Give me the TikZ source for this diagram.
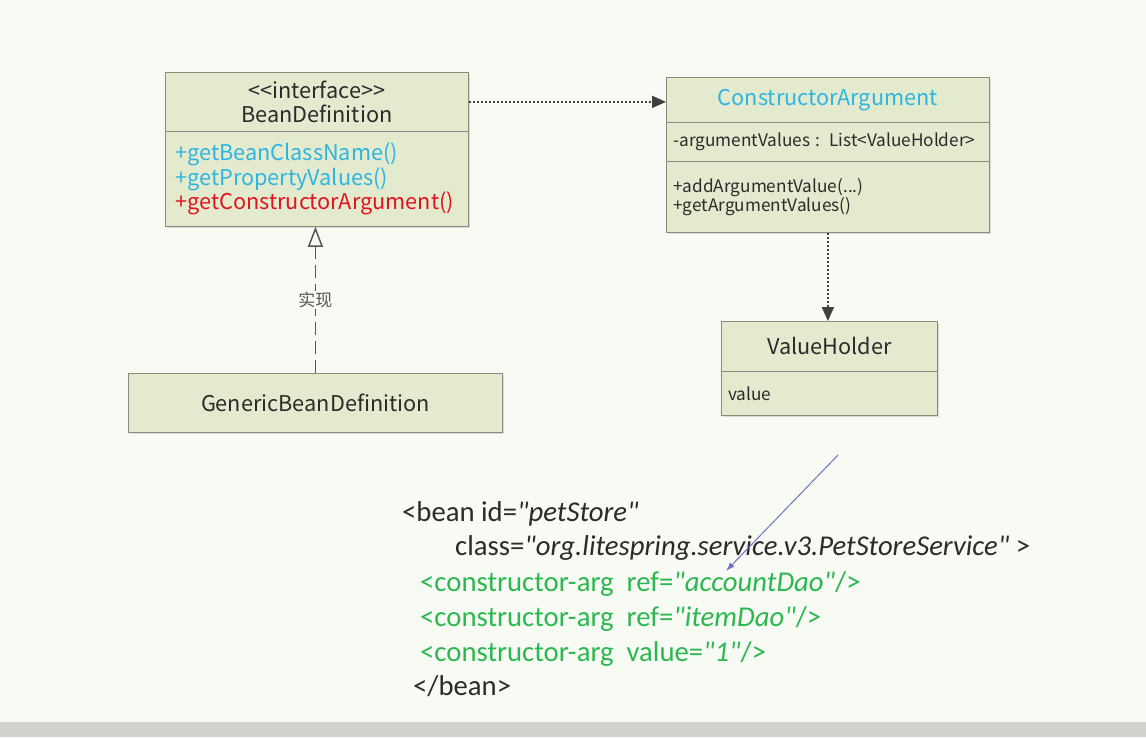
\documentclass[tikz,border=0pt]{standalone}
\usepackage{fontspec}
\setmainfont{Noto Sans CJK SC}
\newfontfamily\xmlfont{Carlito}
\usetikzlibrary{arrows.meta,shadows}
\definecolor{bg}{HTML}{F8FAF4}
\definecolor{bar}{HTML}{D1D2CD}
\definecolor{boxgreen}{HTML}{E3EACD}
\definecolor{boxline}{HTML}{878C7E}
\definecolor{ink}{HTML}{2B2B2B}
\definecolor{ucyan}{HTML}{2DB6E0}
\definecolor{ured}{HTML}{E0141E}
\definecolor{xgreen}{HTML}{2CB850}
\definecolor{pointer}{HTML}{7272C2}
\tikzset{
  umlpart/.style={draw=boxline, fill=boxgreen, line width=0.8pt, anchor=north west,
    inner sep=0pt, text=ink,
    drop shadow={shadow xshift=1.5pt, shadow yshift=-1.5pt, opacity=0.25}},
  umltitle/.style={umlpart, align=center, font=\fontsize{21.7}{24}\selectfont},
  umlops/.style={umlpart, align=left, font=\fontsize{21.7}{24.5}\selectfont},
  umlsmall/.style={umlpart, align=left, font=\fontsize{17.2}{19.5}\selectfont},
  depend/.style={draw=ink!90, line width=1.8pt, dash pattern=on 2pt off 2pt,
    -{Triangle[length=14pt,width=12pt]}},
  realize/.style={draw=ink!80, line width=1.5pt, dash pattern=on 13pt off 6pt,
    -{Triangle[open,length=20pt,width=15pt,line width=1.5pt]}},
  xmltext/.style={anchor=base west, inner sep=0pt, text=ink, font=\xmlfont\fontsize{28.7}{34}\selectfont},
}
\begin{document}
\begin{tikzpicture}[x=1pt,y=-1pt]
\useasboundingbox (0,0) rectangle (1146,737);
\fill[bg] (0,0) rectangle (1146,737);
\fill[bar] (0,722) rectangle (1146,737);
% BeanDefinition
\node[umltitle, minimum width=303pt, minimum height=59pt] (bdhead) at (165,72)
  {<{}<interface>{}>\\BeanDefinition};
\node[umlops, minimum width=303pt, minimum height=95pt, text width=283pt, inner xsep=10pt] (bdbody) at (165,131)
  {\textcolor{ucyan}{+getBeanClassName()}\\\textcolor{ucyan}{+getPropertyValues()}\\\textcolor{ured}{+getConstructorArgument()}};
% GenericBeanDefinition
\node[umltitle, minimum width=374pt, minimum height=59pt] (gbd) at (128,373) {GenericBeanDefinition};
% ConstructorArgument
\node[umltitle, minimum width=323pt, minimum height=45pt, text=ucyan] (cahead) at (666,77) {ConstructorArgument};
\node[umlsmall, minimum width=323pt, minimum height=39pt, text width=309pt, inner xsep=7pt] (caattr) at (666,122)
  {-argumentValues : List<ValueHolder>};
\node[umlsmall, minimum width=323pt, minimum height=71pt, text width=309pt, inner xsep=7pt] (caops) at (666,161)
  {+addArgumentValue(...)\\+getArgumentValues()};
% ValueHolder
\node[umltitle, minimum width=216pt, minimum height=50pt] (vhhead) at (721,321) {ValueHolder};
\node[umlsmall, minimum width=216pt, minimum height=44pt, text width=202pt, inner xsep=7pt] (vhattr) at (721,371) {value};
% connectors
\draw[depend] (bdhead.east) -- (bdhead.east -| cahead.west);
\draw[depend] (caops.south) -- (caops.south |- vhhead.north);
\draw[realize] (gbd.north) -- (gbd.north |- bdbody.south)
  node[midway, fill=bg, text=ink!80, inner sep=1pt, font=\fontsize{17}{20}\selectfont] (implabel) {实现};
% xml
\node[xmltext] (xmlbean) at (402,521) {<bean id=\textit{"petStore"}};
\node[xmltext] (xmlclass) at (455,555.5) {class=\textit{"org.litespring.service.v3.PetStoreService"} >};
\node[xmltext, text=xgreen] (xmlarga) at (420,591) {<constructor-arg\ \ ref=\textit{"accountDao"}/>};
\node[xmltext, text=xgreen] (xmlargb) at (420,626) {<constructor-arg\ \ ref=\textit{"itemDao"}/>};
\node[xmltext, text=xgreen] (xmlargc) at (420,661) {<constructor-arg\ \ value=\textit{"1"}/>};
\node[xmltext] (xmlend) at (413,695) {</bean>};
% pointer
\coordinate (pstart) at (838,455);
\coordinate (ptip) at (726,571);
\draw[pointer, line width=1pt, -{Latex[length=9pt,width=6pt]}] (pstart) -- (ptip);
\end{tikzpicture}
\end{document}
